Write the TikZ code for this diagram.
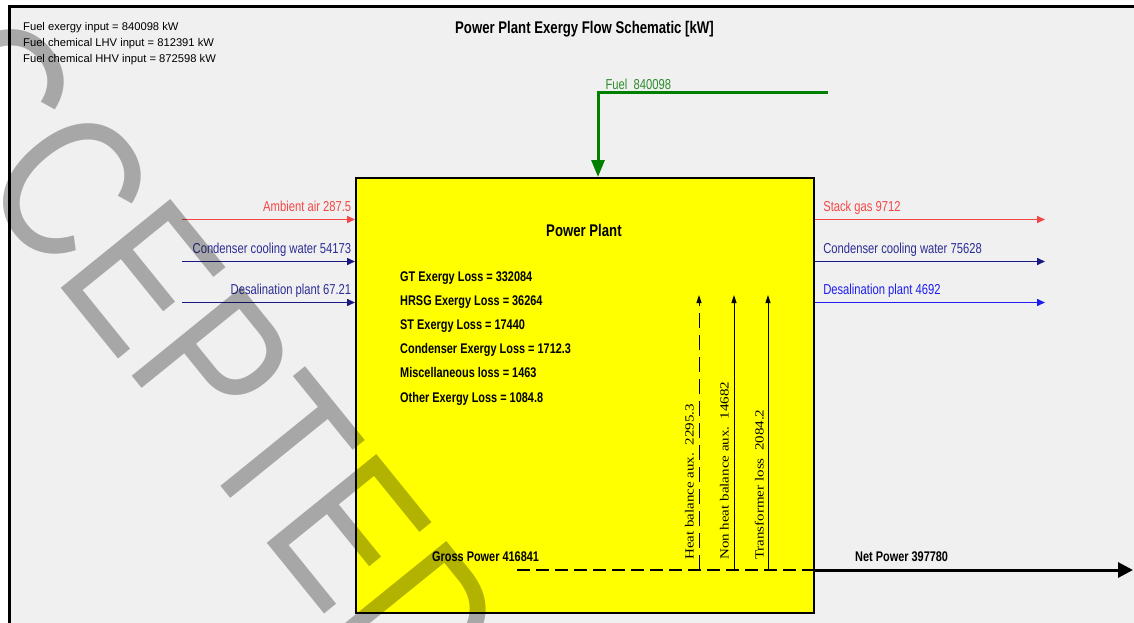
\documentclass[tikz,border=0pt]{standalone}
\usepackage{fontspec}
\setmainfont{Liberation Sans}[FakeStretch=0.78]
\newfontfamily\infofont{Liberation Sans}
\newfontfamily\auxfont{Liberation Serif}[FakeStretch=1.2]
\newfontfamily\stampfont{Liberation Sans}[FakeStretch=0.82]
\usetikzlibrary{arrows.meta, positioning}

\definecolor{panelgray}{RGB}{240,240,240}
\definecolor{plantyellow}{RGB}{255,255,0}
\definecolor{airred}{RGB}{245,70,70}
\definecolor{waternavy}{RGB}{25,25,130}
\definecolor{navytext}{RGB}{45,45,150}
\definecolor{desalblue}{RGB}{30,30,240}
\definecolor{fuelgreen}{RGB}{0,128,0}
\definecolor{fueltext}{RGB}{45,140,45}

\begin{document}
\begin{tikzpicture}[x=1pt, y=-1pt,
            plantbox/.style={draw=black, line width=2pt, fill=plantyellow, minimum width=458pt, minimum height=435pt, anchor=north west, inner sep=0pt},
            infotext/.style={font=\infofont\fontsize{11.2}{13}\selectfont, inner sep=0pt, anchor=base west},
            titletext/.style={font=\bfseries\fontsize{16.9}{18}\selectfont, inner sep=0pt, anchor=base west},
            flowlabel/.style={font=\fontsize{14.4}{16}\selectfont, inner sep=0pt},
            losstext/.style={font=\bfseries\fontsize{14}{16}\selectfont, inner sep=0pt, anchor=base west},
            auxlabel/.style={font=\auxfont\fontsize{12.5}{14}\selectfont, rotate=90, inner sep=0pt, anchor=base west},
            stamp/.style={font=\stampfont\fontsize{205}{205}\selectfont, text=black!30, inner sep=0pt, rotate=-51, anchor=base west},
            flow/.style={line width=1.5pt, -{Triangle[length=8pt,width=7pt]}},
            fuelline/.style={fuelgreen, line width=3pt, -{Triangle[length=17pt,width=13pt]}},
            auxarrow/.style={line width=0.9pt, -{Triangle[length=8pt,width=5pt]}},
            gross/.style={line width=1.2pt, dash pattern=on 13pt off 6pt},
            netpower/.style={line width=3pt, -{Triangle[length=15pt,width=15pt]}}]

            \useasboundingbox (0,0) rectangle (1134,623);
            \fill[white] (0,0) rectangle (1134,623);
            \draw[line width=3pt, fill=panelgray] (9.5,6.5) rectangle (1160,650);

            % Nodes
            \node[plantbox] (plant) at (355,177) {};
            \node[titletext] (plantname) at (546,236) {Power Plant};
            \node[titletext] (title) at (455,33.5) {Power Plant Exergy Flow Schematic [kW]};

            \foreach \info [count=\i] in {Fuel exergy input = 840098 kW, Fuel chemical LHV input = 812391 kW, Fuel chemical HHV input = 872598 kW}
                \node[infotext] (fuelinfo\i) at (23, 14.5+16*\i) {\info};

            \foreach \loss [count=\i] in {GT Exergy Loss = 332084, HRSG Exergy Loss = 36264, ST Exergy Loss = 17440, Condenser Exergy Loss = 1712.3, Miscellaneous loss = 1463, Other Exergy Loss = 1084.8}
                \node[losstext] (loss\i) at (400, 256.8+24.2*\i) {\loss};

            \node[losstext] (grosslabel) at (432,561) {Gross Power 416841};
            \node[losstext] (netlabel) at (855,561) {Net Power 397780};

            % Fuel in
            \coordinate (fuelsrc) at (828,93);
            \coordinate (fuelin) at (598,177);
            \draw[fuelline] (fuelsrc) -| node[flowlabel, text=fueltext, anchor=base west, xshift=6pt, yshift=3pt] {Fuel\ \ 840098} (fuelin);

            % Streams in
            \coordinate (airsrc) at (182,219.5);
            \coordinate (cwsrc) at (182,261.5);
            \coordinate (desalsrc) at (182,302.5);
            \draw[flow, airred] (airsrc) -- (airsrc -| plant.west) node[flowlabel, text=airred, anchor=base east, xshift=-3pt, yshift=8pt] {Ambient air 287.5};
            \draw[flow, waternavy] (cwsrc) -- (cwsrc -| plant.west) node[flowlabel, text=navytext, anchor=base east, xshift=-3pt, yshift=8.5pt] {Condenser cooling water 54173};
            \draw[flow, waternavy] (desalsrc) -- (desalsrc -| plant.west) node[flowlabel, text=navytext, anchor=base east, xshift=-3pt, yshift=8pt] {Desalination plant 67.21};

            % Streams out
            \coordinate (stackout) at (1045,219.5);
            \coordinate (cwout) at (1045,261.5);
            \coordinate (desalout) at (1045,302.5);
            \draw[flow, airred] (stackout -| plant.east) node[flowlabel, text=airred, anchor=base west, xshift=7.5pt, yshift=8pt] {Stack gas 9712} -- (stackout);
            \draw[flow, waternavy] (cwout -| plant.east) node[flowlabel, text=navytext, anchor=base west, xshift=7.5pt, yshift=8.5pt] {Condenser cooling water 75628} -- (cwout);
            \draw[flow, desalblue] (desalout -| plant.east) node[flowlabel, text=desalblue, anchor=base west, xshift=7.5pt, yshift=8pt] {Desalination plant 4692} -- (desalout);

            % Power
            \coordinate (grossstart) at (517,570);
            \coordinate (grossend) at (grossstart -| plant.east);
            \coordinate (netout) at (1133,570);
            \draw[gross] (grossstart) -- (grossend);
            \draw[netpower] (grossend) -- (netout);

            % Auxiliaries
            \coordinate (hbbot) at (699,570);
            \coordinate (hbtop) at (699,295);
            \coordinate (nhbbot) at (734,570);
            \coordinate (nhbtop) at (734,295);
            \coordinate (trbot) at (768,570);
            \coordinate (trtop) at (768,295);
            \draw[auxarrow, dash pattern=on 15pt off 7pt] (hbbot) -- (hbtop);
            \draw[auxarrow] (nhbbot) -- (nhbtop);
            \draw[auxarrow] (trbot) -- (trtop);
            \node[auxlabel] (hblabel) at (693.5,560) {Heat balance aux.\ \ 2295.3};
            \node[auxlabel] (nhblabel) at (728.5,560) {Non heat balance aux.\ \ 14682};
            \node[auxlabel] (trlabel) at (763.5,560) {Transformer loss\ \ 2084.2};

            % Stamp
            \begin{scope}[blend mode=multiply]
                \node[stamp] (stampword) at (-171,2) {ACCEPTED};
            \end{scope}
\end{tikzpicture}
\end{document}
